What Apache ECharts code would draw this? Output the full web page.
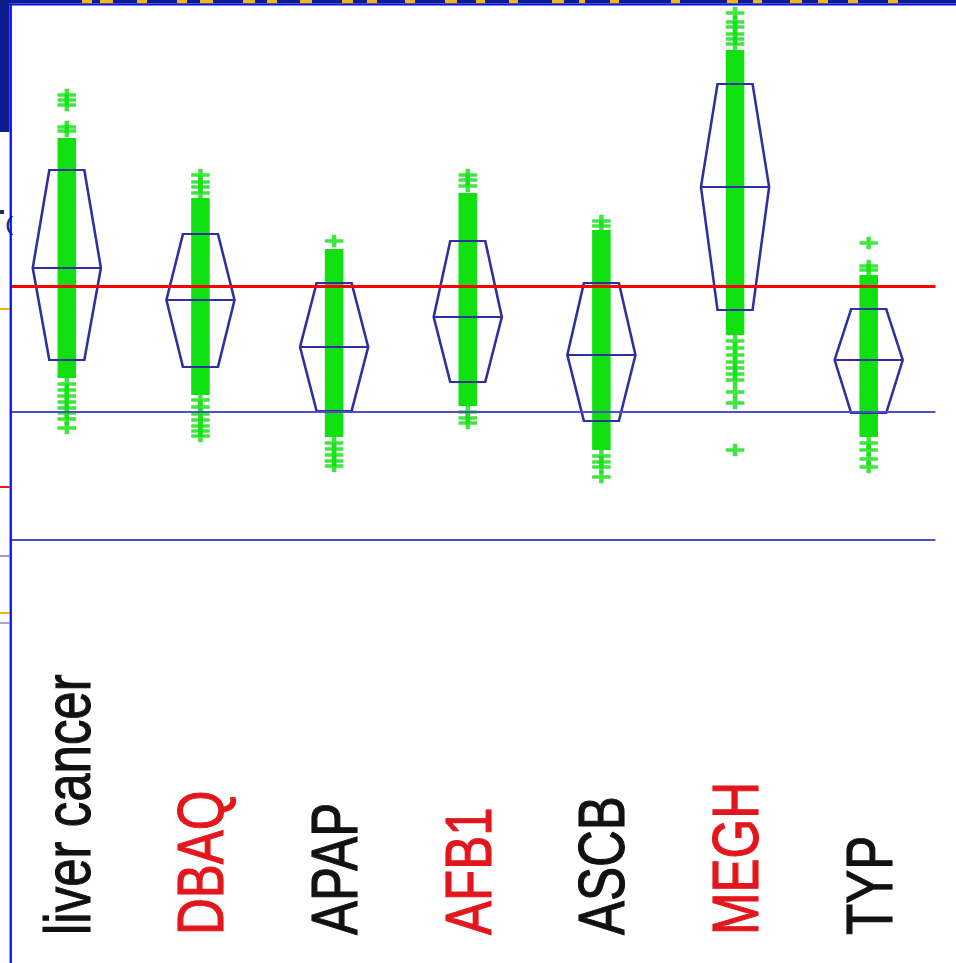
<!DOCTYPE html>
<html>
<head>
<meta charset="utf-8">
<title>Mean diamonds by group</title>
<script src="https://cdn.jsdelivr.net/npm/echarts@6/dist/echarts.min.js"></script>
<style>
  html, body { margin: 0; padding: 0; background: #ffffff; overflow: hidden; }
  /* The slide is stretched horizontally; the chart is drawn narrow and widened by CSS. */
  #chart { width: 747px; height: 963px; transform: scaleX(1.2798); transform-origin: 0 0; }
</style>
</head>
<body>
<div id="chart"></div>
<script>
// ---- data ----
const categories = ['liver cancer', 'DBAQ', 'APAP', 'AFB1', 'ASCB', 'MEGH', 'TYP'];
const labelTone = ['k', 'r', 'k', 'r', 'k', 'r', 'k'];   // k = black label, r = red label

// mean diamond: upper edge, centre line, lower edge
const diamondUpper  = [3.70, 3.06, 2.57, 2.99, 2.57, 4.56, 2.31];
const diamondCenter = [2.72, 2.40, 1.93, 2.23, 1.85, 3.53, 1.80];
const diamondLower  = [1.80, 1.73, 1.29, 1.58, 1.19, 2.30, 1.27];

// span where the individual samples pile up into a solid strip
const denseLow  = [1.62, 1.45, 1.03, 1.34, 0.90, 2.05, 1.03];
const denseHigh = [4.02, 3.42, 2.91, 3.47, 3.10, 4.90, 2.65];

// samples outside the solid strip
const outliersLiver = [4.45, 4.40, 4.35, 4.13, 4.09, 1.56, 1.50, 1.44, 1.38, 1.32, 1.27, 1.21, 1.12];
const outliersDBAQ  = [3.65, 3.58, 3.53, 3.47, 1.40, 1.33, 1.26, 1.20, 1.14, 1.09, 1.04];
const outliersAPAP  = [2.99, 0.97, 0.91, 0.85, 0.79, 0.74];
const outliersAFB1  = [3.65, 3.60, 3.54, 1.28, 1.22, 1.17];
const outliersASCB  = [3.19, 3.14, 0.84, 0.78, 0.73, 0.63];
const outliersMEGH  = [5.27, 5.18, 5.13, 5.06, 5.01, 4.96, 1.99, 1.92, 1.85, 1.78, 1.72, 1.66, 1.60, 1.48, 1.37, 0.90];
const outliersTYP   = [2.97, 2.74, 2.70, 0.97, 0.90, 0.81, 0.73];

// reference levels
const referenceRed = 2.54;
const referenceBlue = [1.28, 0.00];

// ---- layout helpers ----
const STRETCH = 956 / 747;          // horizontal widening applied by CSS
const sx = (x) => x / STRETCH;      // screen x -> chart x
const PAGE_W = 747;

const outlierGroups = [outliersLiver, outliersDBAQ, outliersAPAP, outliersAFB1, outliersASCB, outliersMEGH, outliersTYP];
const outlierPoints = [];
outlierGroups.forEach((vals, i) => vals.forEach(v => outlierPoints.push([i, v])));

const denseData = categories.map((c, i) => [i, denseLow[i], denseHigh[i]]);
const diamondData = categories.map((c, i) => [i, diamondUpper[i], diamondCenter[i], diamondLower[i]]);

const plusPath = 'path://M0,4.8 L14,4.8 L14,8.2 L0,8.2 Z M5.3,0 L8.7,0 L8.7,13 L5.3,13 Z';
const GREEN = '#10e010';
const DIAMOND = '#2f2fa0';
const RED_TEXT = '#e3161b';

// fragments of the slide title band, in screen x
const titleBits = [[82, 92], [100, 113], [137, 147], [177, 187], [200, 213], [243, 255], [267, 277], [300, 312],
  [342, 353], [367, 377], [405, 415], [445, 457], [476, 485], [509, 518], [552, 564], [579, 585], [610, 619],
  [671, 680], [727, 738], [753, 762], [790, 802], [818, 828], [848, 858], [888, 898]];

// short rules peeking out at the left margin: [y, colour]
const marginRules = [[309, '#f5b400'], [487, '#ff1010'], [556, '#9a9ad6'], [613, '#f5b400'], [623, '#a4a4d8']];

const graphics = [];
// white margin strip under the header block
graphics.push({ type: 'rect', z: 100, shape: { x: 0, y: 130, width: sx(10), height: 840 }, style: { fill: '#ffffff' } });
marginRules.forEach(([y, col]) => {
  graphics.push({ type: 'rect', z: 101, shape: { x: 0, y: y - 1, width: sx(9.5), height: 2 }, style: { fill: col } });
});
graphics.push({ type: 'rect', z: 101, shape: { x: 0, y: 210, width: sx(4), height: 4 }, style: { fill: '#1a2a6a' } });
graphics.push({ type: 'text', z: 101, x: sx(5), y: 214, style: { text: '(', fill: '#1a2a6a', font: '20px "Liberation Sans"' } });
// header bar and left header block
graphics.push({ type: 'rect', z: 102, shape: { x: 0, y: 0, width: PAGE_W, height: 3.6 }, style: { fill: '#0c1b8e' } });
graphics.push({ type: 'rect', z: 102, shape: { x: 0, y: 0, width: sx(9.6), height: 132 }, style: { fill: '#0c1b8e' } });
titleBits.forEach(([a, b]) => {
  graphics.push({ type: 'rect', z: 103, shape: { x: sx(a), y: 0, width: sx(b - a), height: 3.2 }, style: { fill: '#f7b800' } });
});
// bright blue frame
graphics.push({ type: 'rect', z: 104, shape: { x: sx(9.6), y: 3.6, width: PAGE_W, height: 2 }, style: { fill: '#0a10f5' } });
graphics.push({ type: 'rect', z: 104, shape: { x: sx(9.6), y: 3.6, width: sx(2.3), height: 963 }, style: { fill: '#0a10f5' } });

const chart = echarts.init(document.getElementById('chart'), null, { renderer: 'svg' });

chart.setOption({
  animation: false,
  backgroundColor: '#ffffff',
  grid: { left: 0, right: PAGE_W - sx(935.5), top: 0, bottom: 23 },
  xAxis: {
    type: 'category',
    data: categories,
    axisLine: { show: false },
    axisTick: { show: false },
    splitLine: { show: false },
    axisLabel: {
      interval: 0,
      rotate: 90,
      align: 'left',
      verticalAlign: 'middle',
      margin: -5,
      fontSize: 51,
      fontFamily: '"Liberation Sans", Arial, sans-serif',
      formatter: (value, index) => '{' + labelTone[index] + '|' + value + '}',
      rich: {
        k: {
          fontSize: 51, fontFamily: '"Liberation Sans", Arial, sans-serif',
          color: '#111111', textBorderColor: '#111111', textBorderWidth: 0.9
        },
        r: {
          fontSize: 51, fontFamily: '"Liberation Sans", Arial, sans-serif',
          color: RED_TEXT, textBorderColor: RED_TEXT, textBorderWidth: 0.9
        }
      }
    }
  },
  yAxis: {
    type: 'value',
    min: -4.0,
    max: 5.4,
    show: false,
    splitLine: { show: false }
  },
  graphic: graphics,
  series: [
    {
      // solid strip of overlapping samples
      type: 'custom',
      z: 1,
      data: denseData,
      renderItem: (params, api) => {
        const lo = api.coord([api.value(0), api.value(1)]);
        const hi = api.coord([api.value(0), api.value(2)]);
        const w = 14.5;
        return {
          type: 'rect',
          shape: { x: lo[0] - w / 2, y: hi[1], width: w, height: lo[1] - hi[1] },
          style: { fill: GREEN }
        };
      }
    },
    {
      type: 'scatter',
      z: 2,
      data: outlierPoints,
      symbol: plusPath,
      symbolSize: [14.5, 12.5],
      itemStyle: { color: GREEN }
    },
    {
      // mean diamonds
      type: 'custom',
      z: 3,
      data: diamondData,
      renderItem: (params, api) => {
        const band = api.size([1, 0])[0];
        const top = api.coord([api.value(0), api.value(1)]);
        const mid = api.coord([api.value(0), api.value(2)]);
        const bot = api.coord([api.value(0), api.value(3)]);
        const cx = mid[0];
        const hwEdge = band * 0.131;
        const hwMid = band * 0.255;
        return {
          type: 'group',
          children: [
            {
              type: 'polygon',
              shape: {
                points: [
                  [cx - hwEdge, top[1]], [cx + hwEdge, top[1]], [cx + hwMid, mid[1]],
                  [cx + hwEdge, bot[1]], [cx - hwEdge, bot[1]], [cx - hwMid, mid[1]]
                ]
              },
              style: { fill: 'none', stroke: DIAMOND, lineWidth: 2 }
            },
            {
              type: 'line',
              shape: { x1: cx - hwMid, y1: mid[1], x2: cx + hwMid, y2: mid[1] },
              style: { stroke: DIAMOND, lineWidth: 2 }
            }
          ]
        };
      },
      markLine: {
        silent: true,
        symbol: 'none',
        label: { show: false },
        data: [
          { yAxis: referenceRed, lineStyle: { color: '#ff0000', width: 3, type: 'solid' } },
          { yAxis: referenceBlue[0], lineStyle: { color: '#4e4ec8', width: 2, type: 'solid' } },
          { yAxis: referenceBlue[1], lineStyle: { color: '#4e4ec8', width: 2, type: 'solid' } }
        ]
      }
    }
  ]
});
</script>
</body>
</html>
